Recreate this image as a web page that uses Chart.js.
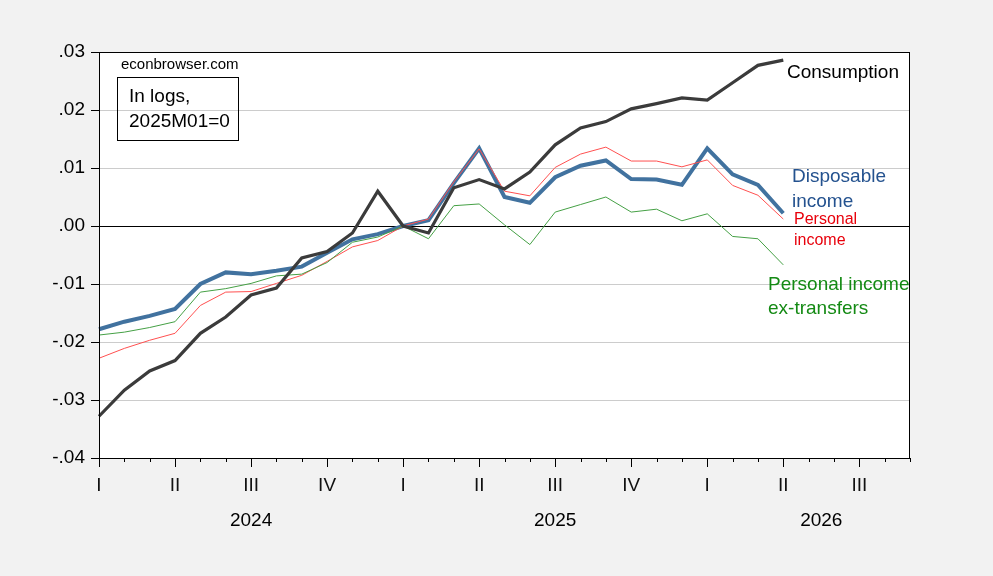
<!DOCTYPE html>
<html>
<head>
<meta charset="utf-8">
<script src="https://cdn.jsdelivr.net/npm/chart.js@4.4.1/dist/chart.umd.min.js"></script>
<style>
  html, body { margin: 0; padding: 0; background: #f2f2f2; }
  #wrap { width: 993px; height: 576px; }
</style>
</head>
<body>
<div id="wrap"><canvas id="chart" width="993" height="576"></canvas></div>
<script>
// months shown on the axis (data ends 2026M04)
const months = [
  '2024M01','2024M02','2024M03','2024M04','2024M05','2024M06','2024M07','2024M08','2024M09','2024M10','2024M11','2024M12',
  '2025M01','2025M02','2025M03','2025M04','2025M05','2025M06','2025M07','2025M08','2025M09','2025M10','2025M11','2025M12',
  '2026M01','2026M02','2026M03','2026M04','2026M05','2026M06','2026M07','2026M08','2026M09'
];
const quarterNames = ['I', 'II', 'III', 'IV'];
const years = ['2024', '2025', '2026'];
const yTicks = [-0.04, -0.03, -0.02, -0.01, 0, 0.01, 0.02, 0.03];

// in logs, 2025M01 = 0
const consumption = [-0.0328,-0.0283,-0.0250,-0.0232,-0.0185,-0.0157,-0.0119,-0.0107,-0.0055,-0.0044,-0.0012,0.0060,
  0.0000,-0.0012,0.0066,0.0080,0.0064,0.0093,0.0140,0.0169,0.0180,0.0202,0.0211,0.0221,
  0.0217,0.0247,0.0277,0.0286];
const disposable = [-0.0178,-0.0165,-0.0155,-0.0143,-0.0100,-0.0080,-0.0083,-0.0077,-0.0070,-0.0046,-0.0023,-0.0014,
  0.0000,0.0010,0.0074,0.0134,0.0050,0.0040,0.0084,0.0104,0.0113,0.0081,0.0080,0.0071,
  0.0134,0.0089,0.0071,0.0022];
const personal = [-0.0228,-0.0211,-0.0197,-0.0185,-0.0137,-0.0114,-0.0113,-0.0099,-0.0085,-0.0061,-0.0036,-0.0025,
  0.0000,0.0012,0.0076,0.0133,0.0060,0.0052,0.0101,0.0124,0.0136,0.0112,0.0112,0.0102,
  0.0114,0.0070,0.0053,0.0012];
const exTransfers = [-0.0188,-0.0183,-0.0175,-0.0165,-0.0114,-0.0108,-0.0099,-0.0086,-0.0083,-0.0063,-0.0028,-0.0019,
  0.0000,-0.0022,0.0035,0.0038,0.0002,-0.0032,0.0024,0.0037,0.0050,0.0024,0.0029,0.0009,
  0.0021,-0.0018,-0.0022,-0.0067];

const FONT = 'Liberation Sans, Arial, sans-serif';

// texts written on the chart
const notes = [
  { text: 'econbrowser.com', x: 121, y: 65, size: 15, color: '#000' },
  { text: 'In logs,', x: 129, y: 97, size: 19, color: '#000' },
  { text: '2025M01=0', x: 129, y: 122, size: 19, color: '#000' },
  { text: 'Consumption', x: 787, y: 73, size: 19, color: '#000' },
  { text: 'Disposable', x: 792, y: 177, size: 19, color: '#24528f' },
  { text: 'income', x: 792, y: 202, size: 19, color: '#24528f' },
  { text: 'Personal', x: 794, y: 220, size: 16, color: '#e8000b' },
  { text: 'income', x: 794, y: 241, size: 16, color: '#e8000b' },
  { text: 'Personal income', x: 768, y: 285, size: 19, color: '#148a14' },
  { text: 'ex-transfers', x: 768, y: 309, size: 19, color: '#148a14' }
];

const decor = {
  id: 'decor',
  beforeDraw(chart) {
    const { ctx, chartArea: a } = chart;
    ctx.save();
    ctx.fillStyle = '#f2f2f2';
    ctx.fillRect(0, 0, chart.width, chart.height);
    ctx.fillStyle = '#ffffff';
    ctx.fillRect(a.left, a.top, a.right - a.left, a.bottom - a.top);
    ctx.restore();
  },
  afterDraw(chart) {
    const { ctx, chartArea: a } = chart;
    const xs = chart.scales.x;
    ctx.save();
    ctx.strokeStyle = '#000';
    ctx.lineWidth = 1;
    ctx.strokeRect(a.left + 0.5, a.top + 0.5, a.right - a.left - 1, a.bottom - a.top);

    // short monthly ticks
    ctx.beginPath();
    months.forEach((m, i) => {
      const x = Math.round(xs.getPixelForValue(i)) + 0.5;
      ctx.moveTo(x, a.bottom);
      ctx.lineTo(x, a.bottom + 4);
    });
    ctx.stroke();

    // year labels centred on each year's span
    ctx.fillStyle = '#000';
    ctx.font = '19px ' + FONT;
    ctx.textAlign = 'center';
    ctx.textBaseline = 'middle';
    years.forEach((yr, k) => {
      const first = months.findIndex(m => m.startsWith(yr));
      const last = months.length - 1 - [...months].reverse().findIndex(m => m.startsWith(yr));
      const x = xs.getPixelForValue((first + last + 1) / 2);
      ctx.fillText(yr, x, 521);
    });

    // notes
    ctx.textAlign = 'left';
    notes.forEach(n => {
      ctx.font = n.size + 'px ' + FONT;
      ctx.fillStyle = n.color;
      ctx.fillText(n.text, n.x, n.y);
    });
    ctx.strokeStyle = '#000';
    ctx.strokeRect(117.5, 77.5, 121, 63);
    ctx.restore();
  }
};

new Chart(document.getElementById('chart'), {
  type: 'line',
  data: {
    labels: months,
    datasets: [
      { label: 'Consumption', data: consumption, borderColor: '#3b3b3b', borderWidth: 3.2 },
      { label: 'Personal income ex-transfers', data: exTransfers, borderColor: '#45a045', borderWidth: 1 },
      { label: 'Personal income', data: personal, borderColor: '#ff5050', borderWidth: 1 },
      { label: 'Disposable income', data: disposable, borderColor: '#41729f', borderWidth: 4 }
    ]
  },
  options: {
    responsive: false,
    animation: false,
    layout: { padding: { left: 0, right: 83, top: 52, bottom: 0 } },
    elements: { point: { radius: 0 }, line: { tension: 0 } },
    plugins: { legend: { display: false }, tooltip: { enabled: false } },
    scales: {
      x: {
        type: 'category',
        offset: false,
        border: { color: '#000' },
        grid: {
          drawOnChartArea: false,
          tickLength: 9,
          tickColor: c => (c.index % 3 === 0 ? '#000' : 'rgba(0,0,0,0)'),
          color: c => (c.index % 3 === 0 ? '#000' : 'rgba(0,0,0,0)')
        },
        ticks: {
          autoSkip: false,
          maxRotation: 0,
          padding: 7,
          color: '#111',
          font: { family: FONT, size: 19 },
          callback: (v, i) => (i % 3 === 0 ? quarterNames[(i / 3) % 4] : '')
        },
        afterFit: s => { s.height = 118; }
      },
      y: {
        min: yTicks[0],
        max: yTicks[yTicks.length - 1],
        border: { color: '#000' },
        afterBuildTicks: s => { s.ticks = yTicks.map(v => ({ value: v })); },
        grid: {
          tickLength: 8,
          tickColor: '#000',
          color: c => (Math.abs(c.tick.value) < 1e-9 ? '#000' : '#cccccc')
        },
        ticks: {
          padding: 6,
          color: '#000',
          font: { family: FONT, size: 19 },
          callback: v => (Math.abs(v) < 1e-9 ? '.00' : v.toFixed(2).replace('0.', '.'))
        },
        afterFit: s => { s.width = 99; }
      }
    }
  },
  plugins: [decor]
});
</script>
</body>
</html>
